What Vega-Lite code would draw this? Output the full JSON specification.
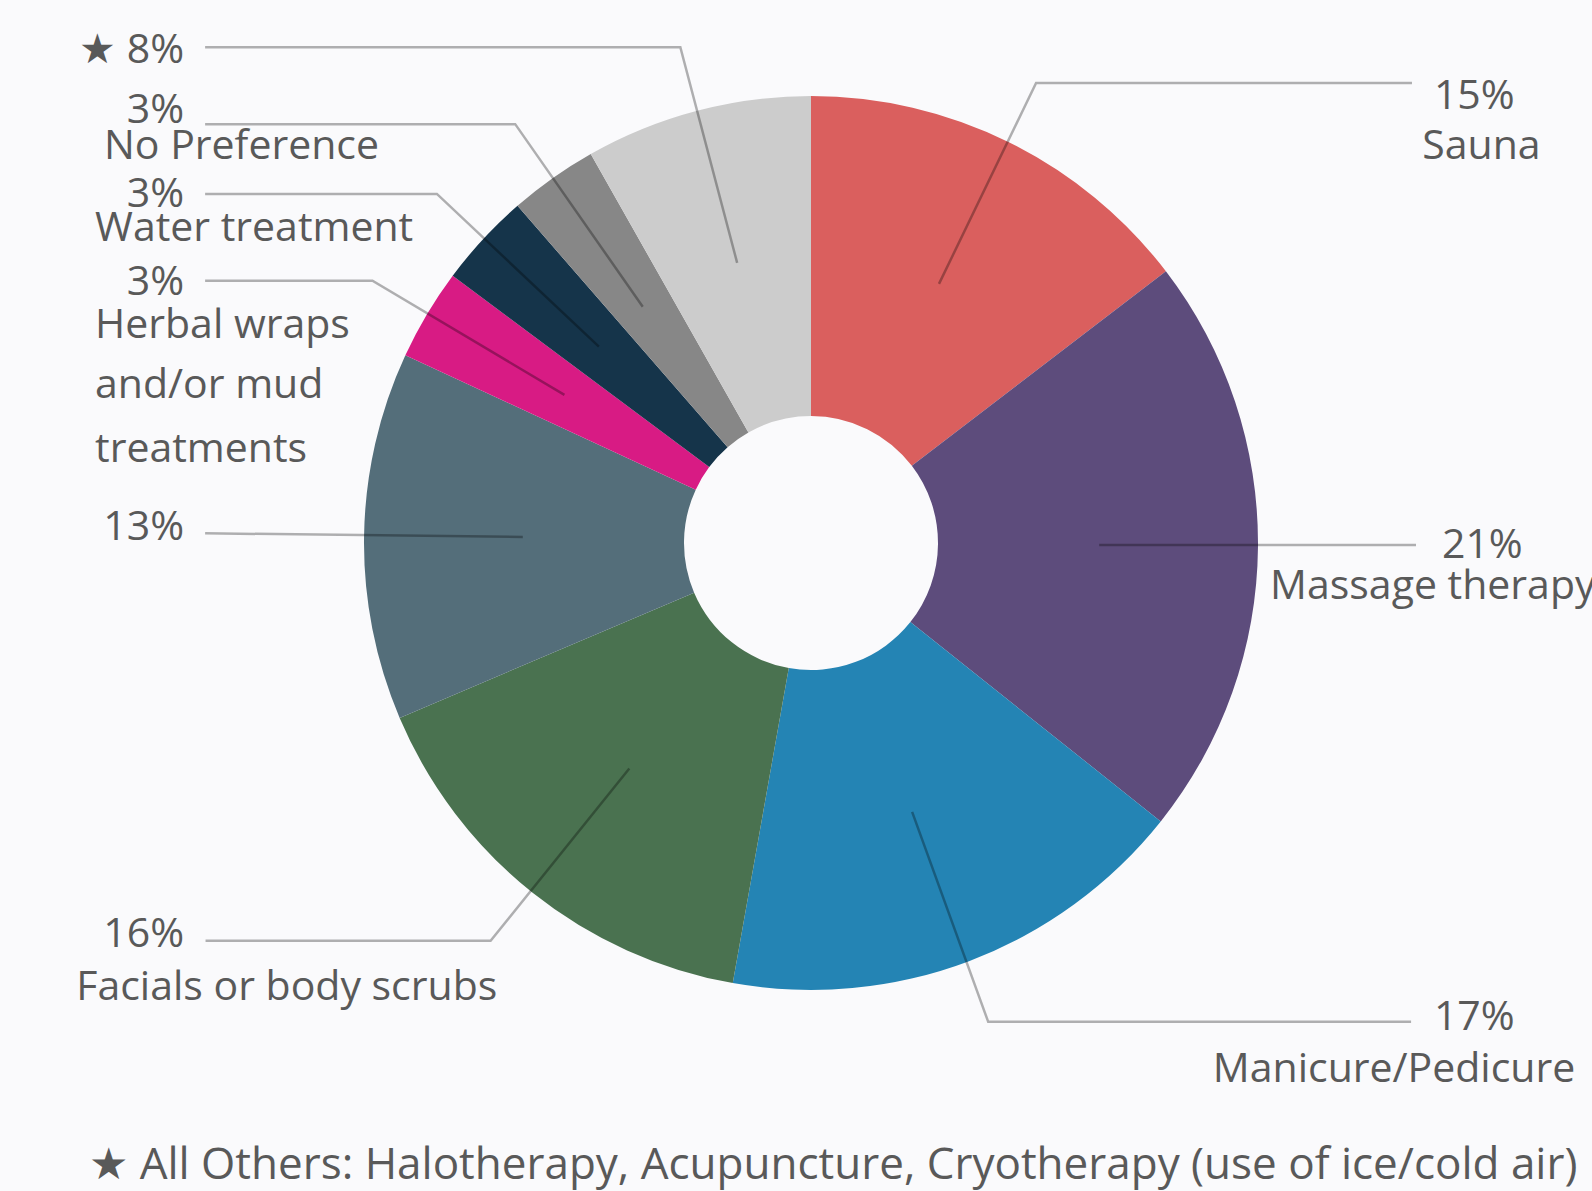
{
  "$schema": "https://vega.github.io/schema/vega-lite/v6.json",
  "width": 1562,
  "height": 1086,
  "autosize": {"type": "none"},
  "padding": {"left": 30, "top": 0, "right": 0, "bottom": 105},
  "background": "#FAFAFC",
  "config": {"view": {"stroke": null}, "text": {"font": "Open Sans", "fontSize": 41, "color": "#595959"}},
  "datasets": {
    "slices": [
      {"category": "Sauna", "value": 14.6, "order": 1},
      {"category": "Massage therapy", "value": 21.1, "order": 2},
      {"category": "Manicure/Pedicure", "value": 17.1, "order": 3},
      {"category": "Facials or body scrubs", "value": 15.8, "order": 4},
      {"category": "(unlabelled)", "value": 13.3, "order": 5},
      {"category": "Herbal wraps and/or mud treatments", "value": 3.3, "order": 6},
      {"category": "Water treatment", "value": 3.4, "order": 7},
      {"category": "No Preference", "value": 3.2, "order": 8},
      {"category": "All Others", "value": 8.2, "order": 9}
    ],
    "leaders": [
      {"slice": "Sauna", "pt": 1, "x": 28.6, "y": 57.9},
      {"slice": "Sauna", "pt": 2, "x": 50.3, "y": 102.8},
      {"slice": "Sauna", "pt": 3, "x": 134.3, "y": 102.8},
      {"slice": "Massage", "pt": 1, "x": 64.4, "y": -0.45},
      {"slice": "Massage", "pt": 2, "x": 135.2, "y": -0.45},
      {"slice": "Manicure", "pt": 1, "x": 22.6, "y": -60.1},
      {"slice": "Manicure", "pt": 2, "x": 39.6, "y": -107.0},
      {"slice": "Manicure", "pt": 3, "x": 134.1, "y": -107.0},
      {"slice": "Facials", "pt": 1, "x": -40.6, "y": -50.4},
      {"slice": "Facials", "pt": 2, "x": -71.6, "y": -88.9},
      {"slice": "Facials", "pt": 3, "x": -135.3, "y": -88.9},
      {"slice": "Unlabelled", "pt": 1, "x": -64.4, "y": 1.34},
      {"slice": "Unlabelled", "pt": 2, "x": -135.4, "y": 2.17},
      {"slice": "Herbal", "pt": 1, "x": -55.1, "y": 33.1},
      {"slice": "Herbal", "pt": 2, "x": -98.0, "y": 58.6},
      {"slice": "Herbal", "pt": 3, "x": -135.4, "y": 58.6},
      {"slice": "Water", "pt": 1, "x": -47.4, "y": 43.9},
      {"slice": "Water", "pt": 2, "x": -83.6, "y": 78.0},
      {"slice": "Water", "pt": 3, "x": -135.4, "y": 78.0},
      {"slice": "NoPref", "pt": 1, "x": -37.6, "y": 52.8},
      {"slice": "NoPref", "pt": 2, "x": -66.1, "y": 93.6},
      {"slice": "NoPref", "pt": 3, "x": -135.4, "y": 93.6},
      {"slice": "Others", "pt": 1, "x": -16.5, "y": 62.6},
      {"slice": "Others", "pt": 2, "x": -29.2, "y": 110.8},
      {"slice": "Others", "pt": 3, "x": -135.4, "y": 110.8}
    ],
    "labelsLeft": [
      {"label": "15%", "x": 139.2, "y": 99.6},
      {"label": "Sauna", "x": 136.6, "y": 88.6},
      {"label": "21%", "x": 141.0, "y": -0.6},
      {"label": "Massage therapy", "x": 102.6, "y": -9.9},
      {"label": "17%", "x": 139.2, "y": -106.2},
      {"label": "Manicure/Pedicure", "x": 89.8, "y": -117.8},
      {"label": "No Preference", "x": -158.0, "y": 88.4},
      {"label": "Water treatment", "x": -160.0, "y": 70.1},
      {"label": "Herbal wraps", "x": -160.0, "y": 48.4},
      {"label": "and/or mud", "x": -160.0, "y": 35.0},
      {"label": "treatments", "x": -160.0, "y": 20.7},
      {"label": "Facials or body scrubs", "x": -164.2, "y": -99.5}
    ],
    "footnote": [
      {"label": "★ All Others: Halotherapy, Acupuncture, Cryotherapy (use of ice/cold air)", "x": -161.3, "y": -139.2}
    ],
    "labelsRight": [
      {"label": "★ 8%", "x": -140.1, "y": 109.9},
      {"label": "3%", "x": -140.1, "y": 96.5},
      {"label": "3%", "x": -140.1, "y": 77.7},
      {"label": "3%", "x": -140.1, "y": 58.0},
      {"label": "13%", "x": -140.1, "y": 3.3},
      {"label": "16%", "x": -140.1, "y": -87.7}
    ]
  },
  "layer": [
    {
      "data": {"name": "slices"},
      "mark": {"type": "arc", "outerRadius": 447, "innerRadius": 127},
      "encoding": {
        "theta": {"field": "value", "type": "quantitative", "stack": true},
        "order": {"field": "order", "type": "quantitative"},
        "color": {
          "field": "category",
          "type": "nominal",
          "legend": null,
          "scale": {
            "domain": ["Sauna", "Massage therapy", "Manicure/Pedicure", "Facials or body scrubs", "(unlabelled)", "Herbal wraps and/or mud treatments", "Water treatment", "No Preference", "All Others"],
            "range": ["#DA5F5E", "#5D4C7C", "#2484B4", "#4A7250", "#546E7A", "#D81B84", "#15344A", "#878787", "#CCCCCC"]
          }
        }
      }
    },
    {
      "data": {"name": "leaders"},
      "mark": {"type": "line", "color": "#000000", "opacity": 0.3, "strokeWidth": 2.5},
      "encoding": {
        "x": {"field": "x", "type": "quantitative", "axis": null, "scale": {"domain": [-174.53, 174.53], "nice": false, "zero": false}},
        "y": {"field": "y", "type": "quantitative", "axis": null, "scale": {"domain": [-121.34, 121.34], "nice": false, "zero": false}},
        "detail": {"field": "slice", "type": "nominal"},
        "order": {"field": "pt", "type": "quantitative"}
      }
    },
    {
      "data": {"name": "labelsLeft"},
      "mark": {"type": "text", "align": "left", "baseline": "middle"},
      "encoding": {
        "x": {"field": "x", "type": "quantitative"},
        "y": {"field": "y", "type": "quantitative"},
        "text": {"field": "label"}
      }
    },
    {
      "data": {"name": "footnote"},
      "mark": {"type": "text", "align": "left", "baseline": "middle", "fontSize": 44}, 
      "encoding": {
        "x": {"field": "x", "type": "quantitative"},
        "y": {"field": "y", "type": "quantitative"},
        "text": {"field": "label"}
      }
    },
    {
      "data": {"name": "labelsRight"},
      "mark": {"type": "text", "align": "right", "baseline": "middle"},
      "encoding": {
        "x": {"field": "x", "type": "quantitative"},
        "y": {"field": "y", "type": "quantitative"},
        "text": {"field": "label"}
      }
    }
  ]
}
